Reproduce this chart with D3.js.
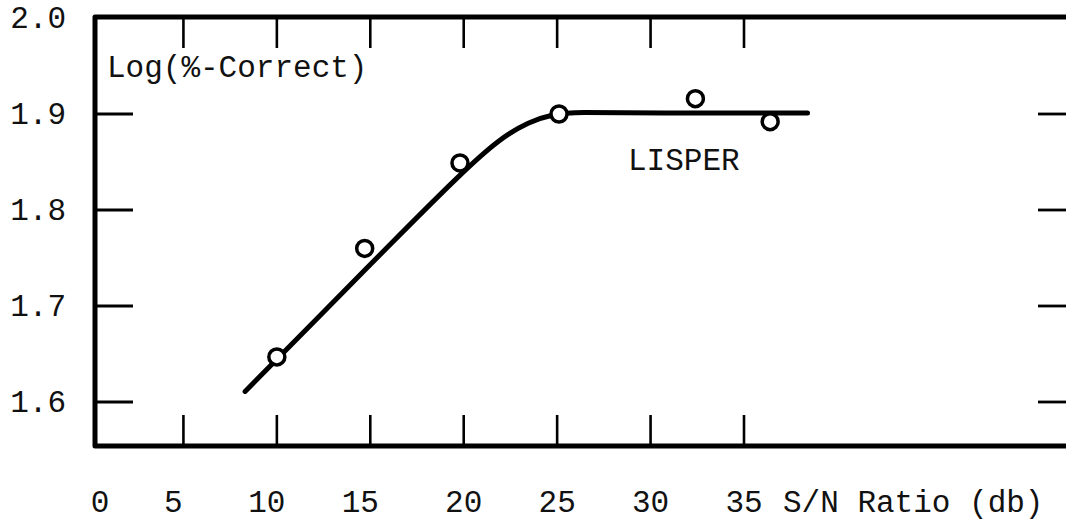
<!DOCTYPE html>
<html lang="en">

<head>
  <meta charset="UTF-8">
  <title>LISPER S/N Ratio</title>
  <script src="https://d3js.org/d3.v7.min.js"></script>
  <style>
    body {
      margin: 0;
      background: #fff;
    }

    text {
      font-family: "Liberation Mono", "DejaVu Sans Mono", monospace;
      font-size: 31px;
      fill: #111;
    }
  </style>
</head>

<body>
  <svg id="chart"></svg>

  <script>
    // measured points (S/N ratio in db, log percent correct)
    const pointX = [10.0, 14.7, 19.8, 25.1, 32.4, 36.4];
    const pointY = [1.647, 1.760, 1.849, 1.900, 1.916, 1.892];

    // hand drawn fitted curve
    const curveX = [8.3, 12.0, 16.0, 19.9, 21.9, 23.5, 24.8, 26.0, 30.0, 38.4];
    const curveY = [1.611, 1.684, 1.763, 1.839, 1.874, 1.892, 1.900, 1.902, 1.901, 1.901];

    // tick labels
    const xTicks = [0, 5, 10, 15, 20, 25, 30, 35];
    const yTicks = [2.0, 1.9, 1.8, 1.7, 1.6];

    const width = 1066;
    const height = 520;
    const frame = { left: 95, top: 17, bottom: 446, right: 1066 };

    const svg = d3.select("#chart")
      .attr("width", width)
      .attr("height", height);

    const x = d3.scaleLinear().domain([0, 35]).range([90, 744]);
    const y = d3.scaleLinear().domain([1.6, 2.0]).range([402, 18]);

    // frame (open on the right side)
    svg.append("path")
      .attr("d", `M${frame.right},${frame.top} L${frame.left},${frame.top} L${frame.left},${frame.bottom} L${frame.right},${frame.bottom}`)
      .attr("fill", "none")
      .attr("stroke", "#000")
      .attr("stroke-width", 5)
      .attr("stroke-linejoin", "round");

    // x ticks, top and bottom
    const xt = xTicks.filter(d => d > 0);
    svg.selectAll(".xtick-top")
      .data(xt)
      .enter()
      .append("line")
      .attr("x1", d => x(d)).attr("x2", d => x(d))
      .attr("y1", frame.top).attr("y2", frame.top + 31)
      .attr("stroke", "#000").attr("stroke-width", 2.6);

    svg.selectAll(".xtick-bottom")
      .data(xt)
      .enter()
      .append("line")
      .attr("x1", d => x(d)).attr("x2", d => x(d))
      .attr("y1", frame.bottom).attr("y2", frame.bottom - 31)
      .attr("stroke", "#000").attr("stroke-width", 2.6);

    // y ticks, left and right
    const yt = yTicks.filter(d => d < 2.0);
    svg.selectAll(".ytick-left")
      .data(yt)
      .enter()
      .append("line")
      .attr("x1", frame.left).attr("x2", frame.left + 38)
      .attr("y1", d => y(d)).attr("y2", d => y(d))
      .attr("stroke", "#000").attr("stroke-width", 2.8);

    svg.selectAll(".ytick-right")
      .data(yt)
      .enter()
      .append("line")
      .attr("x1", 1038).attr("x2", width)
      .attr("y1", d => y(d)).attr("y2", d => y(d))
      .attr("stroke", "#000").attr("stroke-width", 2.8);

    // tick labels
    svg.selectAll(".ylabel")
      .data(yTicks)
      .enter()
      .append("text")
      .attr("x", 66)
      .attr("y", d => y(d))
      .attr("dy", "0.33em")
      .attr("text-anchor", "end")
      .text(d => d.toFixed(1));

    svg.selectAll(".xlabel")
      .data(xTicks)
      .enter()
      .append("text")
      .attr("x", d => x(d) + (d === 0 ? 10 : d <= 15 ? -10 : 0))
      .attr("y", 512)
      .attr("text-anchor", "middle")
      .text(d => d);

    // axis titles and series label
    svg.append("text").attr("x", 783).attr("y", 512).text("S/N Ratio (db)");
    svg.append("text").attr("x", 107).attr("y", 77).text("Log(%-Correct)");
    svg.append("text").attr("x", 628).attr("y", 170).text("LISPER");

    // fitted curve
    const curve = curveX.map((d, i) => [d, curveY[i]]);
    const line = d3.line()
      .x(d => x(d[0]))
      .y(d => y(d[1]))
      .curve(d3.curveBasis);

    svg.append("path")
      .datum(curve)
      .attr("d", line)
      .attr("fill", "none")
      .attr("stroke", "#000")
      .attr("stroke-width", 5)
      .attr("stroke-linecap", "round");

    // data points
    svg.selectAll(".pt")
      .data(pointX)
      .enter()
      .append("circle")
      .attr("cx", d => x(d))
      .attr("cy", (d, i) => y(pointY[i]))
      .attr("r", 8)
      .attr("fill", "#fff")
      .attr("stroke", "#000")
      .attr("stroke-width", 3.5);
  </script>

</body>

</html>
